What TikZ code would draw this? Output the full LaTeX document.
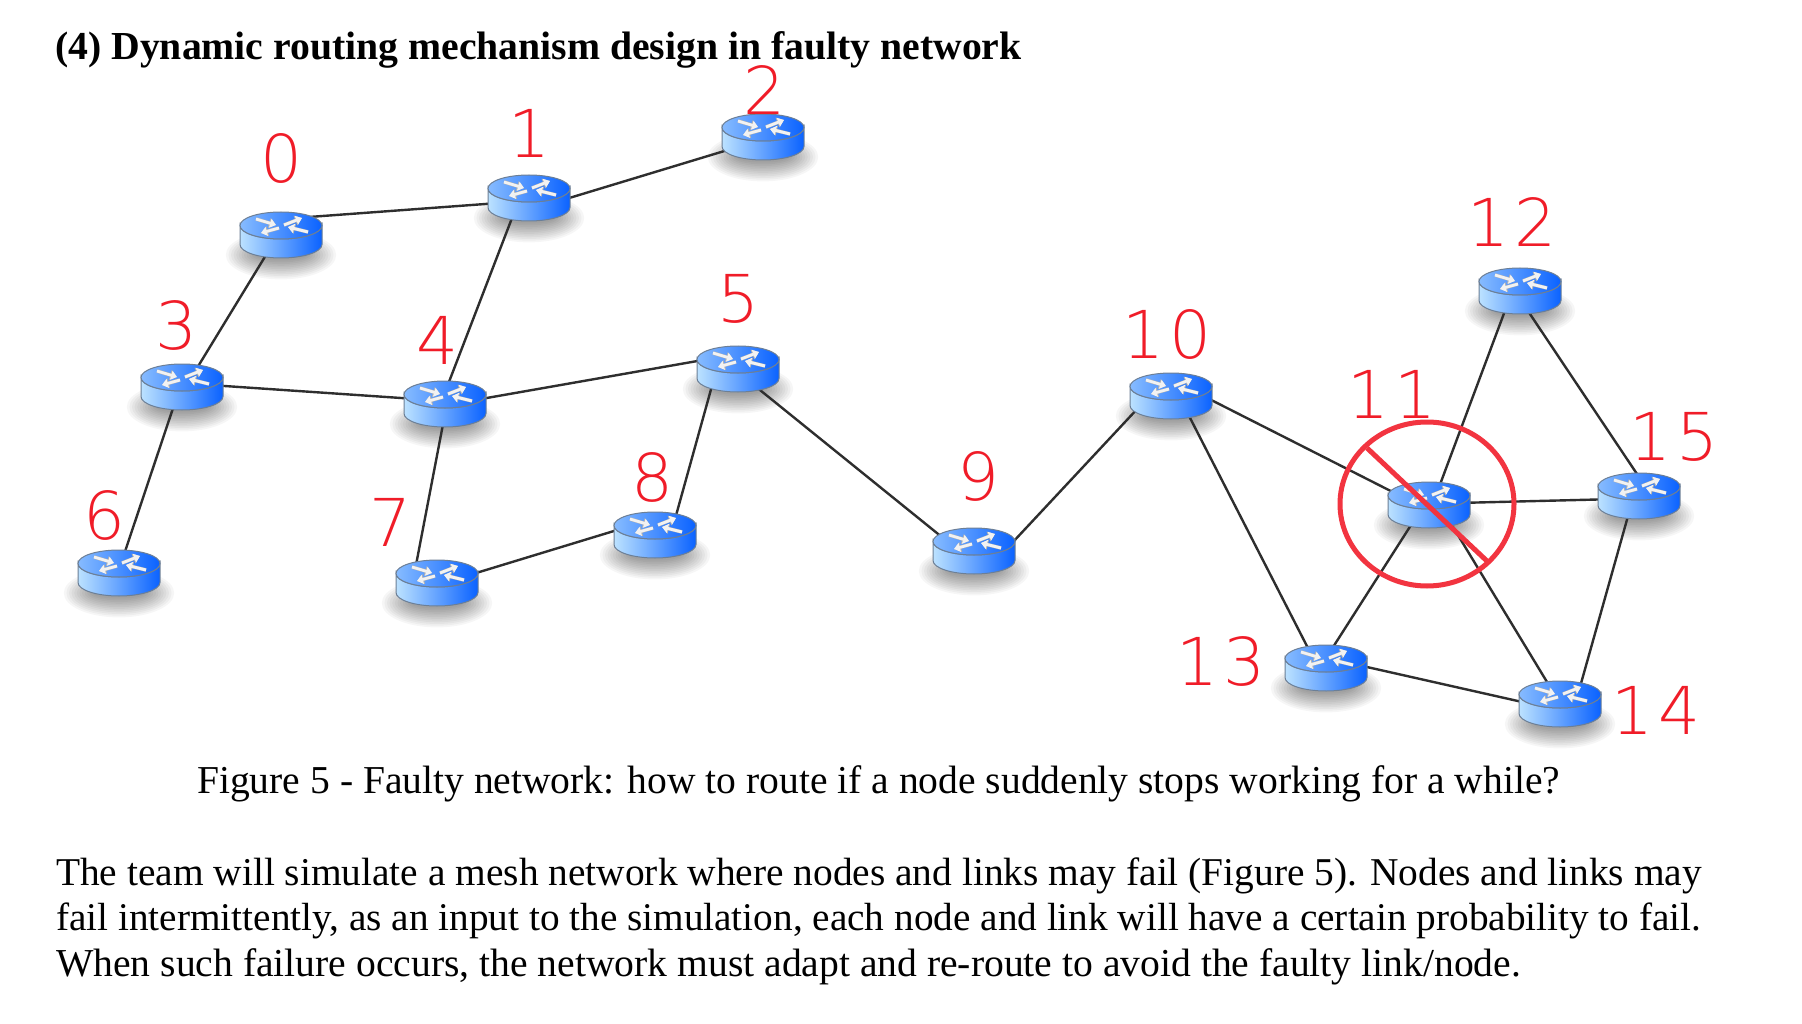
\documentclass[tikz,border=0pt]{standalone}
\usepackage{fontspec}
\setmainfont{Liberation Serif}
\newfontfamily\labelfont[LetterSpace=8]{DejaVu Sans ExtraLight}
\usetikzlibrary{arrows.meta}
\definecolor{rtlight}{HTML}{BCE2FF}
\definecolor{rtdark}{HTML}{0A62FF}
\definecolor{rtedge}{HTML}{6C7F96}
\definecolor{failred}{HTML}{F23440}
\definecolor{labelred}{HTML}{F01C28}
\tikzset{
  x=1pt,y=1pt,
  rnode/.style={inner sep=0pt,minimum size=0pt},
  link/.style={line width=2.4pt,draw=black!82,shorten <=-4pt,shorten >=-4pt},
  failmark/.style={line width=5pt,draw=failred},
  numlabel/.style={text=labelred,font=\labelfont\fontsize{66}{66}\selectfont,inner sep=0pt},
  headtext/.style={anchor=base west,inner sep=0pt,font=\fontsize{39.7}{42}\selectfont\bfseries},
  bodytext/.style={anchor=base west,inner sep=0pt,font=\fontsize{#1}{46}\selectfont},
  shadowlayer/.style={fill=black,fill opacity=0.035},
  rtarrow/.style={line width=2.8pt,draw=white!95!black,-{Triangle[width=9pt,length=6pt]}},
  rtarrowedge/.style={line width=3.6pt,draw=black!30,-{Triangle[width=10pt,length=7pt]}},
  pics/router/.style={code={
    \path[left color=rtlight,right color=rtdark,draw=rtedge,line width=1pt]
      (-41,9.5) -- (-41,-9.5) arc[start angle=180,end angle=360,x radius=41,y radius=13.5] -- (41,9.5)
      arc[start angle=0,end angle=-180,x radius=41,y radius=13.5] -- cycle;
    \path[left color=rtlight!70!rtdark,right color=rtdark,draw=rtedge,line width=1pt]
      (0,9.5) ellipse[x radius=41,y radius=13.5];
    \foreach \ta/\tb/\ha/\hb in {-25/16/-5/10,27/3/7/8,3/10/21/17,-2/7/-20/2}{
      \draw[rtarrowedge] (\ta,\tb) -- (\ha,\hb);
    }
    \foreach \ta/\tb/\ha/\hb in {-25/16/-5/10,27/3/7/8,3/10/21/17,-2/7/-20/2}{
      \draw[rtarrow] (\ta,\tb) -- (\ha,\hb);
    }
  }},
}
\begin{document}
\begin{tikzpicture}
\useasboundingbox (0,-1024) rectangle (1802,0);
\fill[white] (0,-1024) rectangle (1802,0);
% router positions
\foreach \n/\x/\y in {0/281/235,1/529/198,2/763/137,3/182/387,4/445/404,5/738/369,6/119/573,7/437/583,8/655/535,9/974/551,10/1171/396,11/1429/505,12/1520/291,13/1326/668,14/1560/704,15/1639/496}{
  \node[rnode] (r\n) at (\x,-\y) {};
  \foreach \i in {1,...,12}{
    \fill[shadowlayer] (\x,-\y-20) ellipse[x radius=24+\i*2.6,y radius=4+\i*1.7];
  }
}
% links: router a, offset at a, router b, offset at b
\foreach \a/\ax/\ay/\b/\bx/\by in {
  0/29/16/1/-35/-5, 1/35/0/2/-33/-12, 0/-14/-19/3/14/18, 1/-15/-18/4/3/18,
  3/35/1/4/-35/5, 4/35/5/5/-35/7, 3/-8/-19/6/5/18, 4/-2/-19/7/-18/17,
  7/35/9/8/-34/4, 5/-23/-16/8/18/16, 5/20/-19/9/-29/13, 9/35/9/10/-31/-13,
  10/36/-4/11/-31/11, 10/16/-18/13/-15/16, 11/10/19/12/-13/-17, 11/35/2/15/-34/-3,
  11/-16/-18/13/6/18, 11/19/-16/14/-10/17, 12/8/-19/15/-3/21, 13/35/1/14/-34/2, 14/18/17/15/-10/-19}{
  \draw[link] ([shift={(\ax*1.15,\ay*1.15)}]r\a.center) -- ([shift={(\bx*1.15,\by*1.15)}]r\b.center);
}
% routers
\foreach \n in {0,...,15}{
  \pic at (r\n) {router};
}
% failure mark
\coordinate (failc) at (1427,-504);
\coordinate (slasha) at (1367,-448);
\coordinate (slashb) at (1488,-562);
\draw[failmark] (failc) ellipse[x radius=87,y radius=82];
\draw[failmark] (slasha) -- (slashb);
% labels
\foreach \t/\x/\y in {0/281/158,1/529/133,2/764/90,3/176/325,4/437/340,5/738/299,6/104/515,7/390/522,8/652/477,9/978/476,10/1167/334,11/1392/394,12/1512/222,13/1221/661,14/1656/710,15/1674/437}{
  \node[numlabel] (lab\t) at (\x,-\y) {\t};
}
% text
\node[headtext] (title) at (55,-60) {(4) Dynamic routing mechanism design in faulty network};
\node[bodytext=39.55] (caption) at (197,-793) {Figure 5 - Faulty network: how to route if a node suddenly stops working for a while?};
\node[bodytext=39.4] (l1) at (56,-885) {The team will simulate a mesh network where nodes and links may fail (Figure 5). Nodes and links may};
\node[bodytext=39.26] (l2) at (56,-930) {fail intermittently, as an input to the simulation, each node and link will have a certain probability to fail.};
\node[bodytext=39.6] (l3) at (56,-976) {When such failure occurs, the network must adapt and re-route to avoid the faulty link/node.};
\end{tikzpicture}
\end{document}
